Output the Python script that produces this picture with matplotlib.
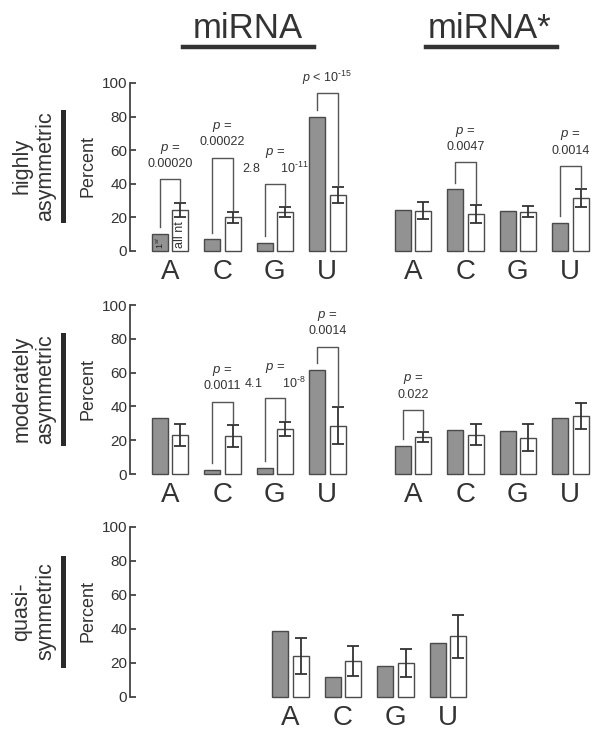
import matplotlib
matplotlib.use("Agg")
import matplotlib.pyplot as plt
from matplotlib.lines import Line2D
import numpy as np

plt.rcParams["font.family"] = ["Liberation Sans", "DejaVu Sans"]
plt.rcParams["mathtext.fontset"] = "custom"
plt.rcParams["mathtext.rm"] = "Liberation Sans"
plt.rcParams["mathtext.it"] = "Liberation Sans:italic"

# Nucleotide categories
bases = ["A", "C", "G", "U"]

# Highly asymmetric: 1st nt (gray) vs all nt (white, mean +/- err)
hi_mir_first = [10, 7, 4.8, 80]
hi_mir_all = [24.5, 20, 23.4, 33.3]
hi_mir_err = [4.2, 3.5, 3, 4.5]
hi_star_first = [24.4, 36.7, 23.8, 16.7]
hi_star_all = [24, 22, 23.3, 31.5]
hi_star_err = [5, 5.5, 3.2, 5.2]

# Moderately asymmetric
mod_mir_first = [33.3, 2.4, 3.4, 61.5]
mod_mir_all = [23, 22.5, 26.5, 28.5]
mod_mir_err = [6.6, 6.6, 4.3, 11]
mod_star_first = [16.6, 26, 25.2, 33.3]
mod_star_all = [22, 23.3, 21.5, 34.2]
mod_star_err = [3, 6, 8, 7.7]

# Quasi-symmetric
quasi_first = [38.8, 11.6, 18.4, 32]
quasi_all = [24, 21.2, 20.2, 35.7]
quasi_err = [10.5, 8.8, 8.2, 12.7]

# p-value brackets: (strand, base index, bracket height, upper line, lower line)
hi_pvals = [
    ("mir", 0, 42.7, "$p$ =", "0.00020"),
    ("mir", 1, 55.5, "$p$ =", "0.00022"),
    ("mir", 2, 40.0, "$p$ =", "2.8      10$^{\\text{-11}}$"),
    ("mir", 3, 93.9, None, "$p$ < 10$^{\\text{-15}}$"),
    ("star", 1, 52.8, "$p$ =", "0.0047"),
    ("star", 3, 50.6, "$p$ =", "0.0014"),
]
mod_pvals = [
    ("mir", 1, 42.8, "$p$ =", "0.0011"),
    ("mir", 2, 44.8, "$p$ =", "4.1      10$^{\\text{-8}}$"),
    ("mir", 3, 75.3, "$p$ =", "0.0014"),
    ("star", 0, 37.9, "$p$ =", "0.022"),
]

W, H = 600, 733
DARK = "#333333"
GRAY = "#929292"
EDGE = "#4a4a4a"
BW = 0.305
OFF = 0.195
XLIM = (-0.76, 8.1)
mir_pos = np.arange(4)
star_pos = np.arange(4) + 4.63
quasi_pos = np.arange(4) + 2.3


def make_axes(fig, y0, y100):
    ax = fig.add_axes([130 / W, 1 - y0 / H, 465 / W, (y0 - y100) / H])
    ax.set_xlim(*XLIM)
    ax.set_ylim(0, 100)
    for s in ["top", "right", "bottom"]:
        ax.spines[s].set_visible(False)
    ax.spines["left"].set_color("#444444")
    ax.spines["left"].set_linewidth(1.3)
    ax.set_yticks([0, 20, 40, 60, 80, 100])
    ax.tick_params(axis="y", direction="in", length=4, width=1.3, color="#444444",
                   labelsize=11, labelcolor=DARK, pad=2)
    ax.tick_params(axis="x", length=0, labelsize=20, labelcolor=DARK, pad=6)
    return ax


def draw_bars(ax, pos, first, allnt, err):
    ax.bar(pos - OFF, first, BW, color=GRAY, edgecolor=EDGE, linewidth=1, clip_on=False)
    ax.bar(pos + OFF, allnt, BW, color="white", edgecolor=EDGE, linewidth=1, clip_on=False)
    ax.errorbar(pos + OFF, allnt, yerr=err, fmt="none", ecolor=DARK,
                elinewidth=1.3, capsize=4, capthick=1.3, clip_on=False)


def draw_pvals(ax, pvals, data):
    for strand, i, top, line1, line2 in pvals:
        pos, first, allnt, err = data[strand]
        xl = pos[i] - OFF
        xr = pos[i] + OFF
        yl = first[i] + 4
        yr = allnt[i] + err[i] + 1
        ax.plot([xl, xl, xr, xr], [yl, top, top, yr], color="#555555", lw=1.0,
                clip_on=False)
        xc = pos[i]
        ax.annotate(line2, (xc, top), xytext=(0, 11), textcoords="offset points",
                    ha="center", va="center", fontsize=9, color=DARK)
        if line1:
            ax.annotate(line1, (xc, top), xytext=(0, 22), textcoords="offset points",
                        ha="center", va="center", fontsize=9.5, color=DARK)


fig = plt.figure(figsize=(W / 100, H / 100), dpi=100)

# Row 1: highly asymmetric
ax1 = make_axes(fig, 251, 83)
draw_bars(ax1, mir_pos, hi_mir_first, hi_mir_all, hi_mir_err)
draw_bars(ax1, star_pos, hi_star_first, hi_star_all, hi_star_err)
ax1.set_xticks(np.concatenate([mir_pos, star_pos]), bases + bases)
draw_pvals(ax1, hi_pvals, {"mir": (mir_pos, hi_mir_first, hi_mir_all, hi_mir_err),
                           "star": (star_pos, hi_star_first, hi_star_all, hi_star_err)})
ax1.text(mir_pos[0] - OFF, hi_mir_first[0] / 2, "1$^{st}$", rotation=90, ha="center",
         va="center", fontsize=6.5, color="#222222")
ax1.text(mir_pos[0] + OFF, 9.5, "all nt", rotation=90, ha="center", va="center",
         fontsize=9, color=DARK)

# Row 2: moderately asymmetric
ax2 = make_axes(fig, 474, 305)
draw_bars(ax2, mir_pos, mod_mir_first, mod_mir_all, mod_mir_err)
draw_bars(ax2, star_pos, mod_star_first, mod_star_all, mod_star_err)
ax2.set_xticks(np.concatenate([mir_pos, star_pos]), bases + bases)
draw_pvals(ax2, mod_pvals, {"mir": (mir_pos, mod_mir_first, mod_mir_all, mod_mir_err),
                            "star": (star_pos, mod_star_first, mod_star_all, mod_star_err)})

# Row 3: quasi-symmetric
ax3 = make_axes(fig, 697, 527)
draw_bars(ax3, quasi_pos, quasi_first, quasi_all, quasi_err)
ax3.set_xticks(quasi_pos, bases)

# Titles with underlines
fig.text(248 / W, 1 - 38 / H, "miRNA", ha="center", va="baseline", fontsize=25, color=DARK)
fig.text(490 / W, 1 - 38 / H, "miRNA*", ha="center", va="baseline", fontsize=25, color=DARK)
for x0, x1 in [(183, 314), (426, 557)]:
    fig.add_artist(Line2D([x0 / W, x1 / W], [1 - 47 / H, 1 - 47 / H], color=DARK, lw=3.2))

# Row labels, side bars and y labels
rows = [("highly\nasymmetric", 112, 220), ("moderately\nasymmetric", 335, 443),
        ("quasi-\nsymmetric", 558, 665)]
for label, ya, yb in rows:
    yc = (ya + yb) / 2
    fig.text(34 / W, 1 - yc / H, label, rotation=90, ha="center", va="center",
             multialignment="center", fontsize=15.5, color=DARK, linespacing=1.2)
    fig.add_artist(Line2D([63 / W, 63 / W], [1 - ya / H, 1 - yb / H], color="#2a2a2a", lw=3.6))
    fig.text(88 / W, 1 - yc / H, "Percent", rotation=90, ha="center", va="center",
             fontsize=13, color=DARK)

fig.savefig("out.png", dpi=100)
